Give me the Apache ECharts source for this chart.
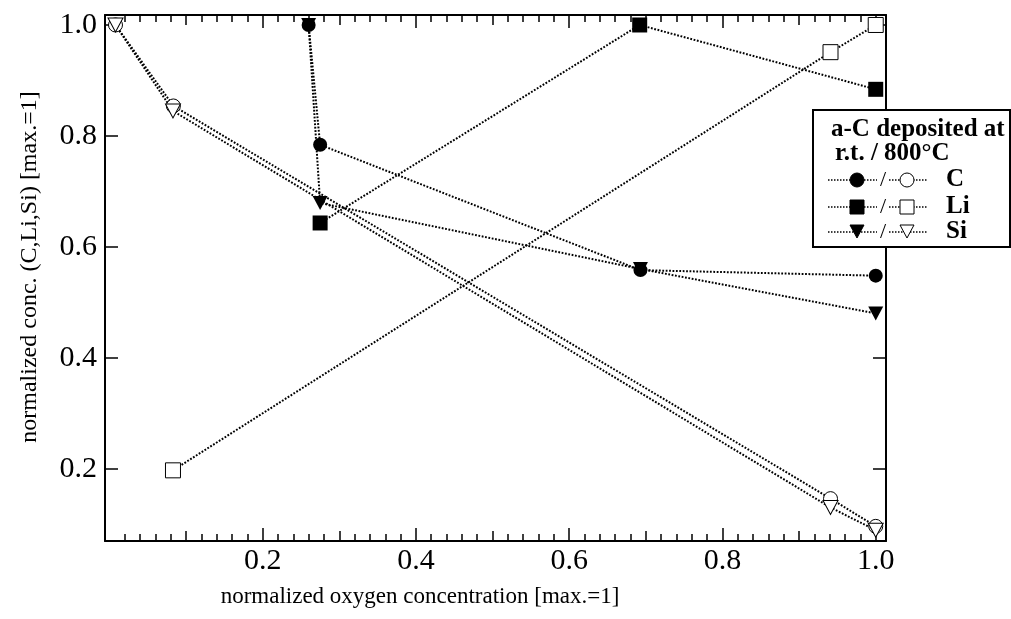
<!DOCTYPE html>
<html>
<head>
<meta charset="utf-8">
<script src="https://cdn.jsdelivr.net/npm/echarts@6/dist/echarts.min.js"></script>
<style>
  html, body { margin: 0; padding: 0; background: #fff; }
  #chart { width: 1011px; height: 619px; }
</style>
</head>
<body>
<div id="chart"></div>
<script>
// a-C deposited at room temperature (filled) and at 800 °C (open)
const cRtX  = [0.26, 0.275, 0.693, 1.0];
const cRtY  = [1.0, 0.784, 0.558, 0.548];
const liRtX = [0.275, 0.692, 1.0];
const liRtY = [0.643, 1.0, 0.884];
const siRtX = [0.26, 0.275, 0.693, 1.0];
const siRtY = [1.0, 0.679, 0.56, 0.48];

const c800X  = [0.008, 0.0835, 0.941, 1.0];
const c800Y  = [1.0, 0.854, 0.146, 0.096];
const li800X = [0.083, 0.941, 1.0];
const li800Y = [0.197, 0.951, 1.0];
const si800X = [0.008, 0.083, 0.941, 1.0];
const si800Y = [1.0, 0.845, 0.13, 0.089];

// axis ticks and labels
const xLabelTicks = [0.2, 0.4, 0.6, 0.8, 1.0];
const xMidTicks = [0.1, 0.3, 0.5, 0.7, 0.9];
const xMinorTicks = [];
for (let i = 1; i <= 50; i++) xMinorTicks.push(+(i * 0.02).toFixed(2));
const yLabelTicks = [0.2, 0.4, 0.6, 0.8, 1.0];

const X_MIN = -0.0057, X_MAX = 1.0134;
const Y_MIN = 0.0696, Y_MAX = 1.018;

const FONT = '"Liberation Serif", "DejaVu Serif", serif';
const downTri = 'path://M0,0L20,0L10,18Z';

function zip(xs, ys) { return xs.map((x, i) => [x, ys[i]]); }

function xAxisDef(position, ticks, len, labels, line) {
  return {
    type: 'value', position: position, min: X_MIN, max: X_MAX,
    axisLine: { show: line, onZero: false, lineStyle: { color: '#000', width: 2 } },
    axisTick: { show: true, inside: true, length: len, customValues: ticks,
                lineStyle: { color: '#000', width: 1.5 } },
    axisLabel: labels ? {
      show: true, customValues: ticks, margin: 5,
      color: '#000', fontFamily: FONT, fontSize: 30,
      formatter: v => v.toFixed(1)
    } : { show: false },
    splitLine: { show: false }
  };
}

function yAxisDef(position, labels) {
  return {
    type: 'value', position: position, min: Y_MIN, max: Y_MAX,
    axisLine: { show: true, onZero: false, lineStyle: { color: '#000', width: 2 } },
    axisTick: { show: true, inside: true, length: 13, customValues: yLabelTicks,
                lineStyle: { color: '#000', width: 1.5 } },
    axisLabel: labels ? {
      show: true, customValues: yLabelTicks, margin: 8,
      color: '#000', fontFamily: FONT, fontSize: 30,
      formatter: v => v.toFixed(1)
    } : { show: false },
    splitLine: { show: false }
  };
}

const dotted = { color: '#000', width: 2, type: [1.8, 1.6] };

function lineSeries(name, xs, ys, symbol, size, filled) {
  return {
    name: name, type: 'line', xAxisIndex: 0, yAxisIndex: 0,
    data: zip(xs, ys),
    symbol: symbol, symbolSize: size, showAllSymbol: true,
    lineStyle: dotted,
    itemStyle: filled
      ? { color: '#000', borderColor: '#000', borderWidth: 0 }
      : { color: '#fff', borderColor: '#000', borderWidth: 1 },
    emphasis: { disabled: true },
    animation: false
  };
}

// legend box drawn with graphic elements
const LX = 813, LY = 110, LW = 197, LH = 137;
const rowY = [180, 207, 232];
const rowLabels = ['C', 'Li', 'Si'];
const legendEls = [
  { type: 'rect', shape: { x: LX, y: LY, width: LW, height: LH },
    style: { fill: '#fff', stroke: '#000', lineWidth: 2 }, z: 100 },
  { type: 'text', x: 831, y: 130, z: 101,
    style: { text: 'a-C deposited at', font: 'bold 25px ' + FONT, fill: '#000',
             align: 'left', verticalAlign: 'middle' } },
  { type: 'text', x: 835, y: 154, z: 101,
    style: { text: 'r.t. / 800°C', font: 'bold 25px ' + FONT, fill: '#000',
             align: 'left', verticalAlign: 'middle' } }
];
function legendMarker(kind, cx, cy, filled) {
  const style = filled ? { fill: '#000', stroke: '#000', lineWidth: 1 }
                       : { fill: '#fff', stroke: '#000', lineWidth: 1 };
  if (kind === 'circle') return { type: 'circle', shape: { cx: cx, cy: cy, r: 7 }, style: style, z: 103 };
  if (kind === 'rect') return { type: 'rect', shape: { x: cx - 7, y: cy - 7, width: 14, height: 14 }, style: style, z: 103 };
  return { type: 'polygon', shape: { points: [[cx - 7, cy - 7], [cx + 7, cy - 7], [cx, cy + 6]] }, style: style, z: 103 };
}
const legendKinds = ['circle', 'rect', 'tri'];
rowY.forEach((y, i) => {
  legendEls.push(
    { type: 'line', shape: { x1: 828, y1: y, x2: 877, y2: y },
      style: { stroke: '#000', lineWidth: 1.5, lineDash: [1.5, 1.5] }, z: 102 },
    legendMarker(legendKinds[i], 857, y, true),
    { type: 'text', x: 883, y: y, z: 101,
      style: { text: '/', font: '22px ' + FONT, fill: '#000', align: 'center', verticalAlign: 'middle' } },
    { type: 'line', shape: { x1: 889, y1: y, x2: 927, y2: y },
      style: { stroke: '#000', lineWidth: 1.5, lineDash: [1.5, 1.5] }, z: 102 },
    legendMarker(legendKinds[i], 907, y, false),
    { type: 'text', x: 946, y: y, z: 101,
      style: { text: rowLabels[i], font: 'bold 25px ' + FONT, fill: '#000', align: 'left', verticalAlign: 'middle' } }
  );
});

const chart = echarts.init(document.getElementById('chart'), null, { renderer: 'canvas' });
chart.setOption({
  animation: false,
  backgroundColor: '#fff',
  grid: { left: 105, right: 125, top: 15, bottom: 78, containLabel: false },
  xAxis: [
    xAxisDef('bottom', xLabelTicks, 13, true, true),
    xAxisDef('bottom', xMidTicks, 10, false, false),
    xAxisDef('bottom', xMinorTicks, 7, false, false),
    xAxisDef('top', xLabelTicks, 13, false, true),
    xAxisDef('top', xMidTicks, 10, false, false),
    xAxisDef('top', xMinorTicks, 7, false, false)
  ],
  yAxis: [
    yAxisDef('left', true),
    yAxisDef('right', false)
  ],
  series: [
    lineSeries('C r.t.', cRtX, cRtY, 'circle', 14, true),
    lineSeries('Si r.t.', siRtX, siRtY, downTri, [15, 14], true),
    lineSeries('Li r.t.', liRtX, liRtY, 'rect', 15, true),
    lineSeries('C 800', c800X, c800Y, 'circle', 14, false),
    lineSeries('Si 800', si800X, si800Y, downTri, [15, 14], false),
    lineSeries('Li 800', li800X, li800Y, 'rect', 15, false)
  ],
  graphic: [
    { type: 'text', x: 30, y: 267, rotation: Math.PI / 2,
      style: { text: 'normalized conc. (C,Li,Si) [max.=1]', font: '24px ' + FONT, fill: '#000',
               align: 'center', verticalAlign: 'middle' } },
    { type: 'text', x: 420, y: 597,
      style: { text: 'normalized oxygen concentration [max.=1]', font: '23px ' + FONT, fill: '#000',
               align: 'center', verticalAlign: 'middle' } }
  ].concat(legendEls)
});
</script>
</body>
</html>
